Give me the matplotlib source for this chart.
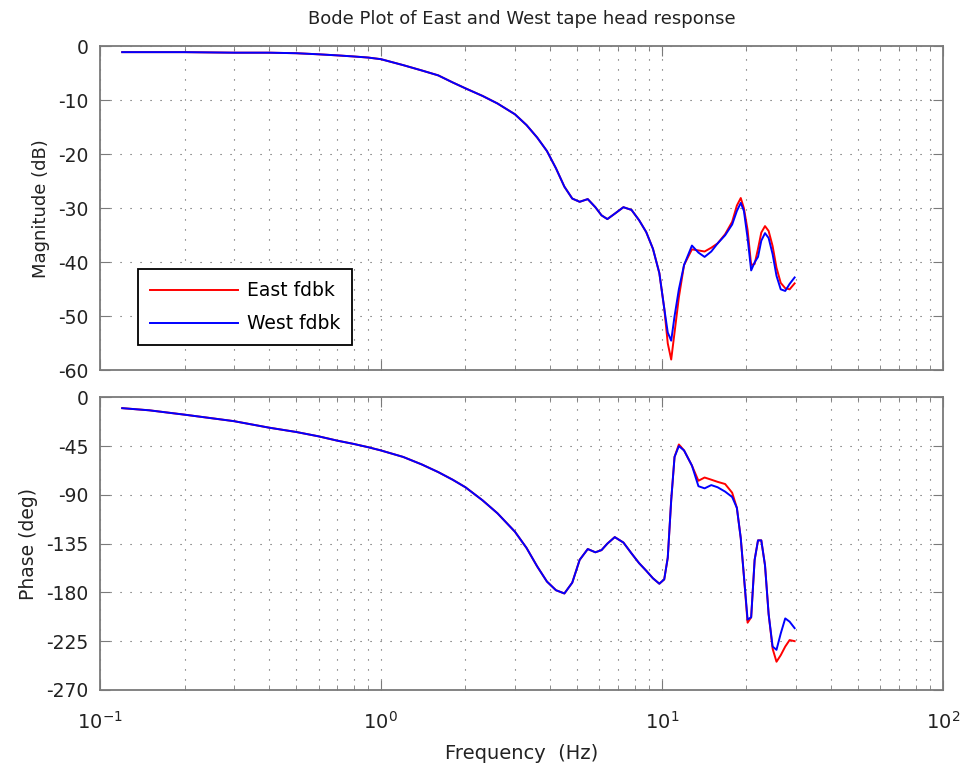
import numpy as np
import matplotlib
matplotlib.use("Agg")
import matplotlib.pyplot as plt
from matplotlib.ticker import LogLocator, NullFormatter

# data
freq = [0.12, 0.15, 0.2, 0.3, 0.4, 0.5, 0.6, 0.7, 0.8, 0.9, 1.0, 1.2, 1.4, 1.6, 1.8,
        2.0, 2.3, 2.6, 3.0, 3.3, 3.6, 3.9, 4.2, 4.5, 4.8, 5.1, 5.45, 5.8, 6.1, 6.4,
        6.8, 7.3, 7.8, 8.3, 8.8, 9.3, 9.8, 10.2, 10.5, 10.8, 11.1, 11.5, 12.0, 12.8,
        13.5, 14.2, 15.0, 15.8, 16.8, 17.8, 18.5, 19.1, 19.6, 20.2, 20.8, 21.4, 22.0,
        22.6, 23.3, 24.0, 24.8, 25.6, 26.5, 27.5, 28.5, 29.7]

mag_east = [-1.1, -1.1, -1.1, -1.2, -1.2, -1.3, -1.5, -1.7, -1.9, -2.1, -2.4, -3.5, -4.5,
            -5.4, -6.7, -7.8, -9.2, -10.6, -12.6, -14.6, -16.9, -19.4, -22.6, -26.0,
            -28.2, -28.8, -28.3, -29.8, -31.3, -32.0, -31.0, -29.8, -30.3, -32.2, -34.4,
            -37.5, -42.0, -48.5, -55.0, -58.0, -53.0, -46.5, -40.5, -37.6, -37.8, -38.0,
            -37.3, -36.5, -34.8, -32.5, -29.5, -28.1, -30.0, -34.0, -40.5, -40.3, -37.5,
            -34.5, -33.3, -34.2, -37.0, -41.0, -43.8, -44.8, -45.0, -43.9]
mag_west = [-1.1, -1.1, -1.1, -1.2, -1.2, -1.3, -1.5, -1.7, -1.9, -2.1, -2.4, -3.5, -4.5,
            -5.4, -6.7, -7.8, -9.2, -10.6, -12.6, -14.6, -16.9, -19.4, -22.6, -26.0,
            -28.2, -28.8, -28.3, -29.8, -31.3, -32.0, -31.0, -29.8, -30.3, -32.2, -34.4,
            -37.5, -42.0, -48.5, -53.0, -54.5, -50.0, -45.0, -40.5, -36.9, -38.2, -39.0,
            -38.0, -36.5, -35.0, -33.0, -30.5, -29.0, -30.5, -35.5, -41.5, -40.0, -39.0,
            -36.0, -34.6, -35.5, -38.5, -42.5, -45.0, -45.3, -44.0, -42.8]

phase_east = [-10, -12, -16, -22, -28, -32, -36, -40, -43, -46, -49, -55, -62, -69, -76,
              -83, -95, -107, -124, -139, -156, -170, -178, -181, -171, -150, -140, -143,
              -141, -135, -129, -134, -144, -153, -160, -167, -172, -168, -148, -95, -55,
              -43.5, -49, -63, -77, -74, -76, -78, -80, -88, -102, -130, -165, -208, -203,
              -150, -132, -132, -155, -200, -232, -244, -238, -230, -224, -225]
phase_west = [-10, -12, -16, -22, -28, -32, -36, -40, -43, -46, -49, -55, -62, -69, -76,
              -83, -95, -107, -124, -139, -156, -170, -178, -181, -171, -150, -140, -143,
              -141, -135, -129, -134, -144, -153, -160, -167, -172, -168, -148, -95, -55,
              -45, -49, -63, -82, -84, -81, -83, -87, -92, -102, -130, -165, -205, -203,
              -150, -132, -132, -155, -200, -230, -233, -218, -204, -207, -213]

plt.rcParams["font.family"] = ["DejaVu Sans"]
plt.rcParams["mathtext.default"] = "regular"
plt.rcParams["axes.unicode_minus"] = False

grid_style = dict(color="#555555", linestyle=(0, (1, 8)), linewidth=0.8)
axis_col = "#7a7a7a"
txt_col = "#222222"

fig = plt.figure(figsize=(9.61, 7.7), dpi=100)
ax1 = fig.add_axes([0.104, 0.519, 0.877, 0.421])
ax2 = fig.add_axes([0.104, 0.104, 0.877, 0.380])

ax1.semilogx(freq, mag_east, color="red", linewidth=1.4, label="East fdbk")
ax1.semilogx(freq, mag_west, color="blue", linewidth=1.4, label="West fdbk")
ax2.semilogx(freq, phase_east, color="red", linewidth=1.4)
ax2.semilogx(freq, phase_west, color="blue", linewidth=1.4)

for ax in (ax1, ax2):
    ax.set_xlim(0.1, 100)
    ax.xaxis.set_major_locator(LogLocator(base=10))
    ax.xaxis.set_minor_locator(LogLocator(base=10, subs=np.arange(2, 10)))
    ax.xaxis.set_minor_formatter(NullFormatter())
    ax.grid(True, which="major", axis="both", **grid_style)
    ax.grid(True, which="minor", axis="x", **grid_style)
    ax.tick_params(which="both", direction="in", top=True, right=True,
                   labelcolor=txt_col, labelsize=13.5, color=axis_col, pad=8)
    ax.tick_params(which="major", length=7)
    ax.tick_params(which="minor", length=3.5)
    for s in ax.spines.values():
        s.set_color(axis_col)
        s.set_linewidth(1.3)

ax1.set_ylim(-60, 0)
ax1.set_yticks(np.arange(-60, 1, 10))
ax1.tick_params(axis="x", labelbottom=False)
ax1.set_ylabel("Magnitude (dB)", fontsize=13, color=txt_col, labelpad=6)
ax1.set_title("Bode Plot of East and West tape head response", fontsize=13,
              color=txt_col, pad=16)

ax2.set_ylim(-270, 0)
ax2.set_yticks(np.arange(-270, 1, 45))
ax2.tick_params(axis="x", labelsize=14, pad=15)
ax2.set_ylabel("Phase (deg)", fontsize=13.5, color=txt_col, labelpad=6)
ax2.set_xlabel("Frequency  (Hz)", fontsize=14, color=txt_col, labelpad=8)

leg = ax1.legend(loc="lower left", bbox_to_anchor=(0.045, 0.077), fontsize=13.5,
                 fancybox=False, framealpha=1, edgecolor="black",
                 handlelength=4.7, handletextpad=0.45, borderpad=0.65,
                 labelspacing=0.75, borderaxespad=0)
leg.get_frame().set_linewidth(1.3)

fig.savefig("out.png", dpi=100)
